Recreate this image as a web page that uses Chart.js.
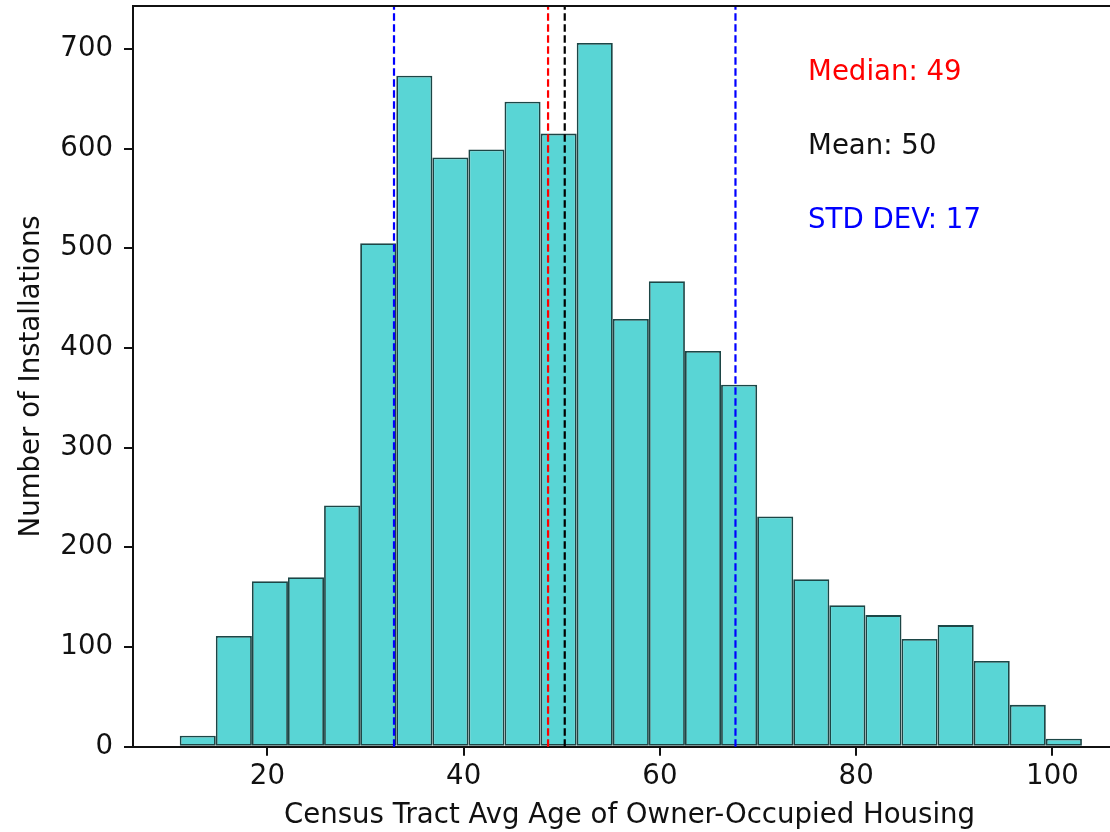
<!DOCTYPE html>
<html>
<head>
<meta charset="utf-8">
<script src="https://cdn.jsdelivr.net/npm/chart.js@4.4.1/dist/chart.umd.min.js"></script>
<style>
  html, body { margin: 0; padding: 0; background: #fff; overflow: hidden; }
  #wrap { width: 1110px; height: 832px; overflow: hidden; }
</style>
</head>
<body>
<div id="wrap"><canvas id="chart" width="1128" height="832"></canvas></div>
<script>
// histogram bins (age in years) and counts
const binEdges = [11.06, 14.74, 18.42, 22.09, 25.77, 29.45, 33.13, 36.81, 40.48, 44.16,
  47.84, 51.52, 55.20, 58.87, 62.55, 66.23, 69.91, 73.59, 77.26, 80.94,
  84.62, 88.30, 91.98, 95.65, 99.33, 103.01]
const counts = [11, 111, 166, 170, 242, 505, 673, 591, 599, 647,
  615, 706, 429, 467, 397, 363, 231, 168, 142, 132,
  108, 122, 86, 42, 8]

const xTicks = [20, 40, 60, 80, 100]
const yTicks = [0, 100, 200, 300, 400, 500, 600, 700]

const medianAge = 48.6
const meanAge = 50.3
const stdAge = 17.4

const statLabels = ['Median: 49', 'Mean: 50', 'STD DEV: 17']
const statColors = ['#ff0000', '#111111', '#0000ff']

const FONT = 'DejaVu Sans'
const FSIZE = 27.6
Chart.defaults.font.family = FONT
Chart.defaults.font.size = FSIZE
Chart.defaults.color = '#111'

const points = counts.map((c, i) => ({ x: (binEdges[i] + binEdges[i + 1]) / 2, y: c }))

const statLines = {
  id: 'statLines',
  afterDatasetsDraw(chart) {
    const { ctx, chartArea: a, scales: { x, y } } = chart
    const lines = [
      [medianAge, '#ff0000'],
      [meanAge, '#000000'],
      [meanAge - stdAge, '#0000ff'],
      [meanAge + stdAge, '#0000ff']
    ]
    ctx.save()
    ctx.lineWidth = 2.2
    ctx.setLineDash([7.5, 3.5])
    lines.forEach(([v, col]) => {
      const px = x.getPixelForValue(v)
      ctx.strokeStyle = col
      ctx.beginPath()
      ctx.moveTo(px, a.bottom)
      ctx.lineTo(px, a.top)
      ctx.stroke()
    })
    ctx.setLineDash([])

    // top and right spines
    ctx.strokeStyle = '#111'
    ctx.lineWidth = 2
    ctx.beginPath()
    ctx.moveTo(a.left, a.top)
    ctx.lineTo(a.right, a.top)
    ctx.lineTo(a.right, a.bottom)
    ctx.stroke()

    // stats text, baselines at 0.9 / 0.8 / 0.7 of the y range
    ctx.font = FSIZE + 'px "' + FONT + '"'
    ctx.textBaseline = 'alphabetic'
    ctx.textAlign = 'left'
    const fr = [0.9, 0.8, 0.7]
    statLabels.forEach((t, i) => {
      ctx.fillStyle = statColors[i]
      ctx.fillText(t, x.getPixelForValue(75.1), y.getPixelForValue(y.max * fr[i]))
    })
    ctx.restore()
  }
}

new Chart(document.getElementById('chart'), {
  type: 'bar',
  data: {
    datasets: [{
      data: points,
      backgroundColor: '#59d5d5',
      borderColor: '#1c4646',
      borderWidth: 1.8,
      borderSkipped: false,
      inflateAmount: 0,
      barPercentage: 1,
      categoryPercentage: 1
    }]
  },
  options: {
    responsive: false,
    animation: false,
    devicePixelRatio: 1,
    layout: { padding: { top: 6, left: 0, right: 2, bottom: 0 } },
    plugins: { legend: { display: false }, tooltip: { enabled: false } },
    scales: {
      x: {
        type: 'linear',
        min: 6.3,
        max: 107.5,
        offset: false,
        grid: { display: true, offset: false, drawOnChartArea: false, drawTicks: true, tickLength: 9, tickWidth: 2, tickColor: '#111', lineWidth: 2 },
        border: { display: true, color: '#111', width: 2 },
        afterBuildTicks: s => { s.ticks = xTicks.map(v => ({ value: v })) },
        ticks: { padding: 5, color: '#111', callback: v => String(v) },
        title: { display: true, text: 'Census Tract Avg Age of Owner-Occupied Housing', color: '#111', padding: { top: 0, bottom: 0 } },
        afterFit: s => { s.height = 85.3; s.paddingLeft = 0; s.paddingRight = 0 }
      },
      y: {
        min: 0,
        max: 743,
        grid: { display: true, drawOnChartArea: false, drawTicks: true, tickLength: 9, tickWidth: 2, tickColor: '#111', lineWidth: 2 },
        border: { display: true, color: '#111', width: 2 },
        afterBuildTicks: s => { s.ticks = yTicks.map(v => ({ value: v })) },
        ticks: { padding: 11, color: '#111', callback: v => String(v) },
        title: { display: true, text: 'Number of Installations', color: '#111', padding: { top: 15, bottom: 0 } },
        afterFit: s => { s.width = 133; s.paddingTop = 0; s.paddingBottom = 0 }
      }
    }
  },
  plugins: [statLines]
})
</script>
</body>
</html>
